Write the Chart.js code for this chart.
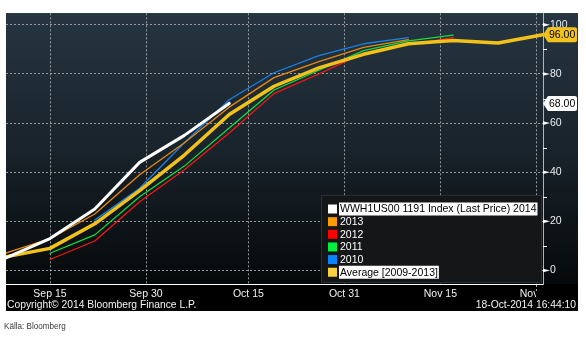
<!DOCTYPE html>
<html><head><meta charset="utf-8">
<script src="https://cdn.jsdelivr.net/npm/chart.js@4.4.1/dist/chart.umd.min.js"></script>
<style>
html,body{margin:0;padding:0;background:#fff;}
#wrap{position:relative;width:586px;height:338px;overflow:hidden;}
canvas{position:absolute;left:0;top:0;}
.ft{position:absolute;color:#f4f4f4;font-family:"Liberation Sans",Arial,sans-serif;font-size:10.3px;white-space:nowrap;line-height:1;}
#src{position:absolute;left:4px;top:321px;font-family:"Liberation Sans",Arial,sans-serif;font-size:9px;color:#3a3a3a;white-space:nowrap;transform:scaleX(0.9);transform-origin:0 0;}
</style></head><body>
<div id="wrap">
<canvas id="c" width="586" height="338"></canvas>
<div class="ft" style="left:7px;top:300px;">Copyright© 2014 Bloomberg Finance L.P.</div>
<div class="ft" style="right:10px;top:300px;">18-Oct-2014 16:44:10</div>
<div id="src">Källa: Bloomberg</div>
</div>
<script>
// Days relative to Sep 15 (weekly report dates)
const weekDays = [-7, 0, 7, 14, 21, 28, 35, 42, 49, 56, 63, 70, 77];
const s2014 = [5, 13, 25, 44, 55, 68, null, null, null, null, null, null, null];
const s2013 = [7, 13, 23, 39, 52, 66.5, 78.5, 85, 90.8, 94, null, null, null];
const s2012 = [null, 4.5, 12, 28, 41, 56, 72, 80, 88.5, 92, 94.8, null, null];
const s2011 = [null, 7, 14.5, 30, 42.5, 58, 73.5, 81.5, 89.5, 93.5, 95.8, null, null];
const s2010 = [null, null, 20.5, 33.5, 52, 69.5, 80.5, 87.5, 92.3, 94.8, null, null, null];
const sAvg  = [5.5, 9, 19, 32.5, 47, 63.5, 75, 82.5, 88, 92.3, 93.6, 92.6, 96];

const seriesNames = ['WWH1US00 1191 Index (Last Price) 2014', '2013', '2012', '2011', '2010', 'Average [2009-2013]'];
const tickDays = [0, 15, 31, 46, 61, 76];
const tickLabels = ['Sep 15', 'Sep 30', 'Oct 15', 'Oct 31', 'Nov 15', 'Nov 30'];
const yTicks = [0, 20, 40, 60, 80, 100];
const yMinorTicks = [10, 30, 50, 70, 90];

const allSeries = [s2014, s2013, s2012, s2011, s2010, sAvg];
const styles = [
  {line:'#ffffff', sw:'#ffffff', w:3, order:0, hl:true},
  {line:'#e8870f', sw:'#ff9a00', w:1.3, order:2},
  {line:'#ff1414', sw:'#ff0000', w:1.2, order:2},
  {line:'#12e040', sw:'#00f040', w:1.2, order:2},
  {line:'#1a80e6', sw:'#0a84ff', w:1.3, order:2},
  {line:'#f2c21a', sw:'#f8d040', w:3.5, order:1, hl:true}
];
const toPts = arr => weekDays.map((d,i)=>({x:d, y:arr[i]})).filter(p=>p.y!==null);

const datasets = allSeries.map((arr,i)=>({
  label: seriesNames[i],
  data: toPts(arr),
  borderColor: styles[i].line,
  backgroundColor: styles[i].sw,
  borderWidth: styles[i].w,
  order: styles[i].order,
  pointRadius: 0,
  tension: 0,
  fill: false
}));

const FONT = '"Liberation Sans", Arial, sans-serif';

const bgPlugin = {
  id:'bg',
  beforeDraw(chart){
    const ctx = chart.ctx, ca = chart.chartArea;
    ctx.save();
    ctx.fillStyle = '#ffffff';
    ctx.fillRect(0,0,chart.width,chart.height);
    ctx.fillStyle = '#000000';
    ctx.fillRect(ca.left, ca.top, 578-ca.left, 311-ca.top);
    const g = ctx.createLinearGradient(0, ca.top, 0, ca.bottom);
    g.addColorStop(0, '#263541');
    g.addColorStop(0.5, '#19232b');
    g.addColorStop(1, '#05090a');
    ctx.fillStyle = g;
    ctx.fillRect(ca.left, ca.top, 578-ca.left, ca.bottom-ca.top);
    ctx.restore();
  }
};

const overlayPlugin = {
  id:'overlay',
  afterDatasetsDraw(chart){
    const ctx = chart.ctx, ca = chart.chartArea;
    // legend
    ctx.save();
    const lx = 321, ly = 195, lw = ca.right - 1 - lx, lh = ca.bottom - 1 - ly;
    ctx.fillStyle = '#141618';
    ctx.fillRect(lx, ly, lw, lh);
    ctx.strokeStyle = '#2b2f33';
    ctx.lineWidth = 1;
    ctx.strokeRect(lx+0.5, ly+0.5, lw-1, lh-1);
    ctx.font = '10.5px ' + FONT;
    ctx.textBaseline = 'middle';
    chart.data.datasets.forEach((ds,i)=>{
      const cy = 209 + i*12.65;
      ctx.fillStyle = ds.backgroundColor;
      ctx.fillRect(328, cy-4.5, 9, 9);
      if (styles[i].hl){
        const w = ctx.measureText(ds.label).width;
        ctx.fillStyle = '#ffffff';
        ctx.fillRect(339, cy-6.5, w+2, 13);
        ctx.fillStyle = '#000000';
      } else {
        ctx.fillStyle = '#ffffff';
      }
      ctx.fillText(ds.label, 340, cy+0.5);
    });
    ctx.restore();
  },
  afterDraw(chart){
    const ctx = chart.ctx, ca = chart.chartArea, ys = chart.scales.y;
    ctx.save();
    // right axis tick marks
    ctx.fillStyle = '#ffffff';
    yTicks.forEach(v=>{
      const y = ys.getPixelForValue(v);
      ctx.beginPath();
      ctx.moveTo(ca.right, y-1.8);
      ctx.lineTo(ca.right+7, y);
      ctx.lineTo(ca.right, y+1.8);
      ctx.closePath();
      ctx.fill();
    });
    ctx.strokeStyle = '#ffffff';
    ctx.lineWidth = 1;
    yMinorTicks.forEach(v=>{
      const y = Math.round(ys.getPixelForValue(v))+0.5;
      ctx.beginPath();
      ctx.moveTo(ca.right, y);
      ctx.lineTo(ca.right+4, y);
      ctx.stroke();
    });
    // clip the last x label at the plot edge, as in the original
    ctx.fillStyle = '#000000';
    ctx.fillRect(536, ca.bottom+1, 578-536, 14);
    ctx.strokeStyle = 'rgba(190,190,190,0.9)';
    ctx.setLineDash([2,2]);
    const xs = chart.scales.x;
    const nx = Math.round(xs.getPixelForValue(tickDays[tickDays.length-1]))+0.5;
    ctx.beginPath(); ctx.moveTo(nx, ca.bottom+1); ctx.lineTo(nx, ca.bottom+9); ctx.stroke();
    ctx.setLineDash([]);
    // last value tags
    const lastOf = arr => { for (let i=arr.length-1;i>=0;i--) if (arr[i]!==null) return arr[i]; return null; };
    const tag = (val, fill) => {
      const y = ys.getPixelForValue(val);
      const x0 = ca.right, x1 = x0+5, x2 = 577, h = 7.5, r = 2;
      ctx.beginPath();
      ctx.moveTo(x0, y);
      ctx.lineTo(x1, y-h);
      ctx.lineTo(x2-r, y-h);
      ctx.quadraticCurveTo(x2, y-h, x2, y-h+r);
      ctx.lineTo(x2, y+h-r);
      ctx.quadraticCurveTo(x2, y+h, x2-r, y+h);
      ctx.lineTo(x1, y+h);
      ctx.closePath();
      ctx.fillStyle = fill;
      ctx.fill();
      ctx.fillStyle = '#000000';
      ctx.font = '10.5px ' + FONT;
      ctx.textBaseline = 'middle';
      ctx.textAlign = 'left';
      ctx.fillText(val.toFixed(2), x0+6, y+0.5);
    };
    tag(lastOf(s2014), '#ffffff');
    tag(lastOf(sAvg), '#f2c21a');
    ctx.restore();
  }
};

new Chart(document.getElementById('c'), {
  type:'line',
  data:{datasets},
  options:{
    responsive:false,
    animation:false,
    devicePixelRatio:1,
    layout:{padding:{left:6, top:3, right:8, bottom:27}},
    plugins:{legend:{display:false}, tooltip:{enabled:false}},
    elements:{point:{radius:0}, line:{borderCapStyle:'round', borderJoinStyle:'round'}},
    scales:{
      x:{
        type:'linear', min:-6.875, max:77.03,
        afterBuildTicks: s => { s.ticks = tickDays.map(v=>({value:v})); },
        afterFit: s => { s.height = 27; },
        grid:{color:'rgba(175,175,175,0.85)', lineWidth:1, drawTicks:false},
        border:{display:true, color:'#ffffff', width:1, dash:[2,2]},
        ticks:{color:'#f2f2f2', font:{family:FONT, size:10.5}, padding:4, maxRotation:0, minRotation:0, autoSkip:false,
          callback:(v)=>{ const i = tickDays.indexOf(v); return i>=0 ? tickLabels[i] : ''; }}
      },
      y:{
        type:'linear', position:'right', min:-5.5, max:104.7,
        afterBuildTicks: s => { s.ticks = yTicks.map(v=>({value:v})); },
        afterFit: s => { s.width = 35; },
        grid:{color:'rgba(175,175,175,0.85)', lineWidth:1, drawTicks:false},
        border:{display:true, color:'#b4b4b4', width:1, dash:[2,2]},
        ticks:{color:'#e8eef4', font:{family:FONT, size:10.5}, padding:7, callback:(v)=>String(v)}
      }
    }
  },
  plugins:[bgPlugin, overlayPlugin]
});
</script>
</body></html>
